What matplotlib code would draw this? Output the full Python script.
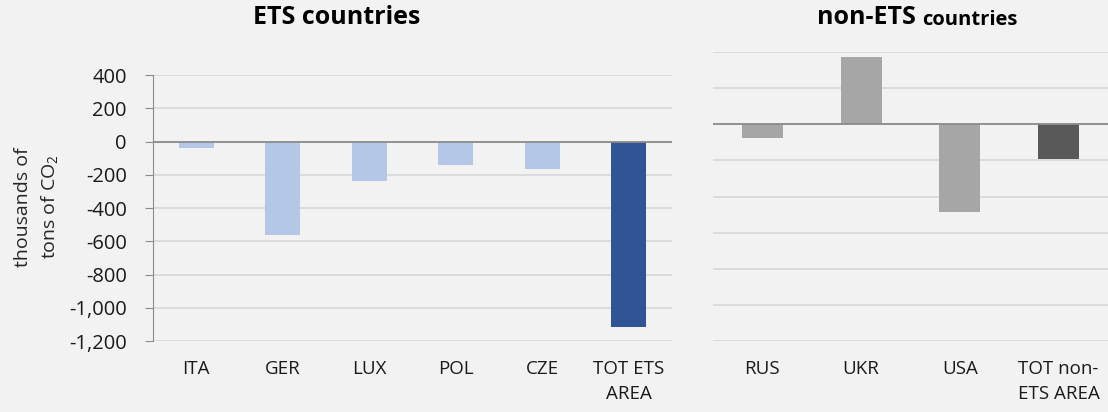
import matplotlib
matplotlib.use("Agg")
import matplotlib.pyplot as plt
from matplotlib.ticker import FuncFormatter

# ETS panel
ets_labels = ["ITA", "GER", "LUX", "POL", "CZE", "TOT ETS\nAREA"]
ets_values = [-40, -565, -235, -140, -165, -1115]
ets_colors = ["#b4c7e7"] * 5 + ["#2f5597"]

# non-ETS panel (axis labels hidden in the original)
non_labels = ["RUS", "UKR", "USA", "TOT non-\nETS AREA"]
non_values = [-38, 186, -244, -96]
non_colors = ["#a6a6a6"] * 3 + ["#595959"]

BG = "#f2f2f2"
GRID = "#d9d9d9"
ZERO = "#8c8c8c"

plt.rcParams["font.family"] = ["Open Sans", "DejaVu Sans"]
plt.rcParams["mathtext.fontset"] = "custom"
plt.rcParams["mathtext.rm"] = "Open Sans"
plt.rcParams["mathtext.it"] = "Open Sans"

fig = plt.figure(figsize=(11.08, 4.12), dpi=100, facecolor=BG)
ax1 = fig.add_axes([0.1381, 0.1723, 0.4684, 0.6456], facecolor=BG)
ax2 = fig.add_axes([0.6435, 0.1723, 0.3565, 0.7015], facecolor=BG)


def style(ax):
    for s in ax.spines.values():
        s.set_visible(False)
    ax.grid(axis="y", color=GRID, linewidth=1.3)
    ax.set_axisbelow(True)
    ax.axhline(0, color=ZERO, linewidth=1.3, zorder=3)
    ax.tick_params(axis="x", length=0, pad=14, labelsize=13.5, colors="#1a1a1a")


# left
ax1.bar(range(len(ets_values)), ets_values, width=0.4, color=ets_colors, zorder=2)
ax1.set_xlim(-0.5, len(ets_values) - 0.5)
ax1.set_ylim(-1200, 400)
ax1.set_yticks(range(-1200, 401, 200))
ax1.yaxis.set_major_formatter(FuncFormatter(lambda v, p: f"{int(v):,}"))
style(ax1)
ax1.spines["left"].set_visible(True)
ax1.spines["left"].set_color(ZERO)
ax1.tick_params(axis="y", length=6, color=ZERO, pad=13, labelsize=14.5, colors="#1a1a1a")
ax1.set_xticks(range(len(ets_labels)))
ax1.set_xticklabels(ets_labels, linespacing=1.45, va="top")
ax1.set_ylabel("thousands of\ntons of CO$_2$", fontsize=14, color="#262626",
               linespacing=1.45)
ax1.yaxis.set_label_coords(-0.179, 0.504)

# right
ax2.bar(range(len(non_values)), non_values, width=0.415, color=non_colors, zorder=2)
ax2.set_xlim(-0.5, len(non_values) - 0.5)
ax2.set_ylim(-600, 200)
ax2.set_yticks(range(-600, 201, 100))
style(ax2)
ax2.tick_params(axis="y", length=0, labelleft=False)
ax2.set_xticks(range(len(non_labels)))
ax2.set_xticklabels(non_labels, linespacing=1.45, va="top")

# titles
fig.text(337 / 1108, 1 - 18 / 412, "ETS countries", ha="center", va="center",
         fontsize=18, fontweight="bold")
t1 = fig.text(817 / 1108, 1 - 17 / 412, "non-ETS ", ha="left", va="center",
              fontsize=18, fontweight="bold")
t2 = fig.text(0.7375, 1 - 20 / 412, "countries", ha="left", va="center",
              fontsize=14.5, fontweight="bold")
fig.canvas.draw()
bb = t1.get_window_extent()
t2.set_x(bb.x1 / fig.bbox.width)

fig.savefig("out.png", dpi=100, facecolor=BG)
